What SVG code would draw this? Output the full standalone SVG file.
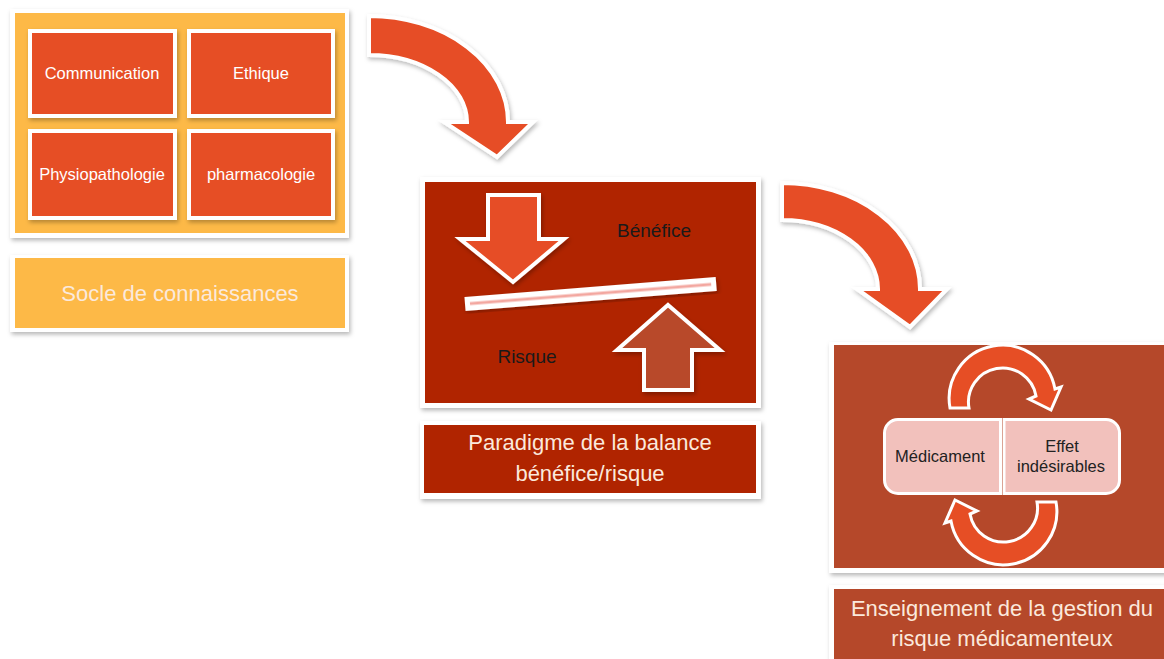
<svg xmlns="http://www.w3.org/2000/svg" width="1164" height="659" viewBox="0 0 1164 659">
<defs>
<filter id="sh" x="-10%" y="-10%" width="125%" height="130%">
<feDropShadow dx="1.5" dy="2.5" stdDeviation="2" flood-color="#000" flood-opacity="0.28"/>
</filter>
<style>
.wb{fill:#fff;filter:url(#sh)}
.yel{fill:#FDB947}
.org{fill:#E64E25}
.dred{fill:#B02400}
.brn{fill:#B5482A}
.arr{fill:#E64E25;stroke:#fff;stroke-width:4;stroke-linejoin:miter;filter:url(#sh)}
.carr{fill:#E64E25;stroke:#fff;stroke-width:3;stroke-linejoin:miter}
.pale{fill:#F2C1BC;stroke:#fff;stroke-width:3}
text{font-family:"Liberation Sans",Arial,sans-serif;text-anchor:middle}
.t15{font-size:16.5px;fill:#fff}
.cap{font-size:22px;fill:#FBE9DC}
.blk{font-size:19px;fill:#1a1a1a}
.blk14{font-size:16.5px;fill:#222}
</style>
</defs>
<rect width="1164" height="659" fill="#fff"/>

<g id="connectors">
<path class="arr" d="M369,16 A139,106 0 0 1 508,122 L533,122 L497,157 L444,122 L467,122 A98,67 0 0 0 369,55 Z"/>
<path class="arr" d="M782,183 A138,106 0 0 1 920,289 L947,289 L910,327 L857,289 L878,289 A96,69 0 0 0 782,220 Z"/>
</g>

<g id="socle-panel">
<rect class="wb" x="10" y="9" width="339" height="229"/>
<rect class="yel" x="15" y="13" width="330" height="220"/>
</g>
<g id="communication">
<rect class="wb" x="28" y="29" width="149" height="89"/>
<rect class="org" x="32" y="33" width="141" height="81"/>
<text class="t15" x="102" y="79">Communication</text>
</g>
<g id="ethique">
<rect class="wb" x="187" y="29" width="148" height="89"/>
<rect class="org" x="191" y="33" width="140" height="81"/>
<text class="t15" x="261" y="79">Ethique</text>
</g>
<g id="physiopathologie">
<rect class="wb" x="28" y="129" width="149" height="91"/>
<rect class="org" x="32" y="133" width="141" height="83"/>
<text class="t15" x="102" y="180">Physiopathologie</text>
</g>
<g id="pharmacologie">
<rect class="wb" x="187" y="129" width="148" height="91"/>
<rect class="org" x="191" y="133" width="140" height="83"/>
<text class="t15" x="261" y="180">pharmacologie</text>
</g>
<g id="socle-caption">
<rect class="wb" x="10" y="255" width="339" height="77"/>
<rect class="yel" x="15" y="258" width="330" height="70"/>
<text class="cap" x="180" y="301">Socle de connaissances</text>
</g>

<g id="balance-panel">
<rect class="wb" x="420" y="177" width="341" height="231"/>
<rect class="dred" x="425" y="182" width="331" height="221"/>
<path fill="#E64E25" stroke="#fff" stroke-width="4" filter="url(#sh)" d="M488,195 L539,195 L539,239 L564,239 L513,282 L460,239 L488,239 Z"/>
<path fill="#B84A2A" stroke="#fff" stroke-width="4" filter="url(#sh)" d="M668,305 L720,350 L692,350 L692,390 L644,390 L644,350 L617,350 Z"/>
<g transform="rotate(-4.56 465 304)" filter="url(#sh)">
<rect x="465" y="297" width="252" height="14" fill="#fff"/>
<rect x="470" y="302.5" width="242" height="3" fill="#F3A7A0"/>
</g>
<text class="blk" x="654" y="237">Bénéfice</text>
<text class="blk" x="527" y="363">Risque</text>
</g>
<g id="balance-caption">
<rect class="wb" x="420" y="421" width="341" height="78"/>
<rect class="dred" x="424" y="425" width="332" height="68"/>
<text class="cap" x="590" y="450">Paradigme de la balance</text>
<text class="cap" x="590" y="481">bénéfice/risque</text>
</g>

<g id="gestion-panel">
<rect class="wb" x="829" y="342" width="345" height="231"/>
<rect class="brn" x="834" y="345" width="340" height="223"/>
<path class="carr" d="M950,408 A53,53 0 0 1 1055,389 L1061,387 L1051,410 L1029,399 L1036,396 A34,34 0 0 0 969,408 Z"/>
<path class="carr" transform="rotate(180 1003 455)" d="M950,408 A53,53 0 0 1 1055,389 L1061,387 L1051,410 L1029,399 L1036,396 A34,34 0 0 0 969,408 Z"/>
</g>
<g id="medicament">
<path class="pale" d="M898,419.5 H1000.5 V493.5 H898 A13.5,13.5 0 0 1 884.5,480 V433 A13.5,13.5 0 0 1 898,419.5 Z"/>
<text class="blk14" x="940" y="462">Médicament</text>
</g>
<g id="effet">
<path class="pale" d="M1004,419.5 H1106 A13.5,13.5 0 0 1 1119.5,433 V480 A13.5,13.5 0 0 1 1106,493.5 H1004 Z"/>
<text class="blk14" x="1062" y="452">Effet</text>
<text class="blk14" x="1061" y="472">indésirables</text>
</g>
<g id="gestion-caption">
<rect class="wb" x="829" y="585" width="345" height="90"/>
<rect class="brn" x="834" y="589" width="340" height="90"/>
<text class="cap" x="1002" y="616">Enseignement de la gestion du</text>
<text class="cap" x="1002" y="646">risque médicamenteux</text>
</g>
</svg>
